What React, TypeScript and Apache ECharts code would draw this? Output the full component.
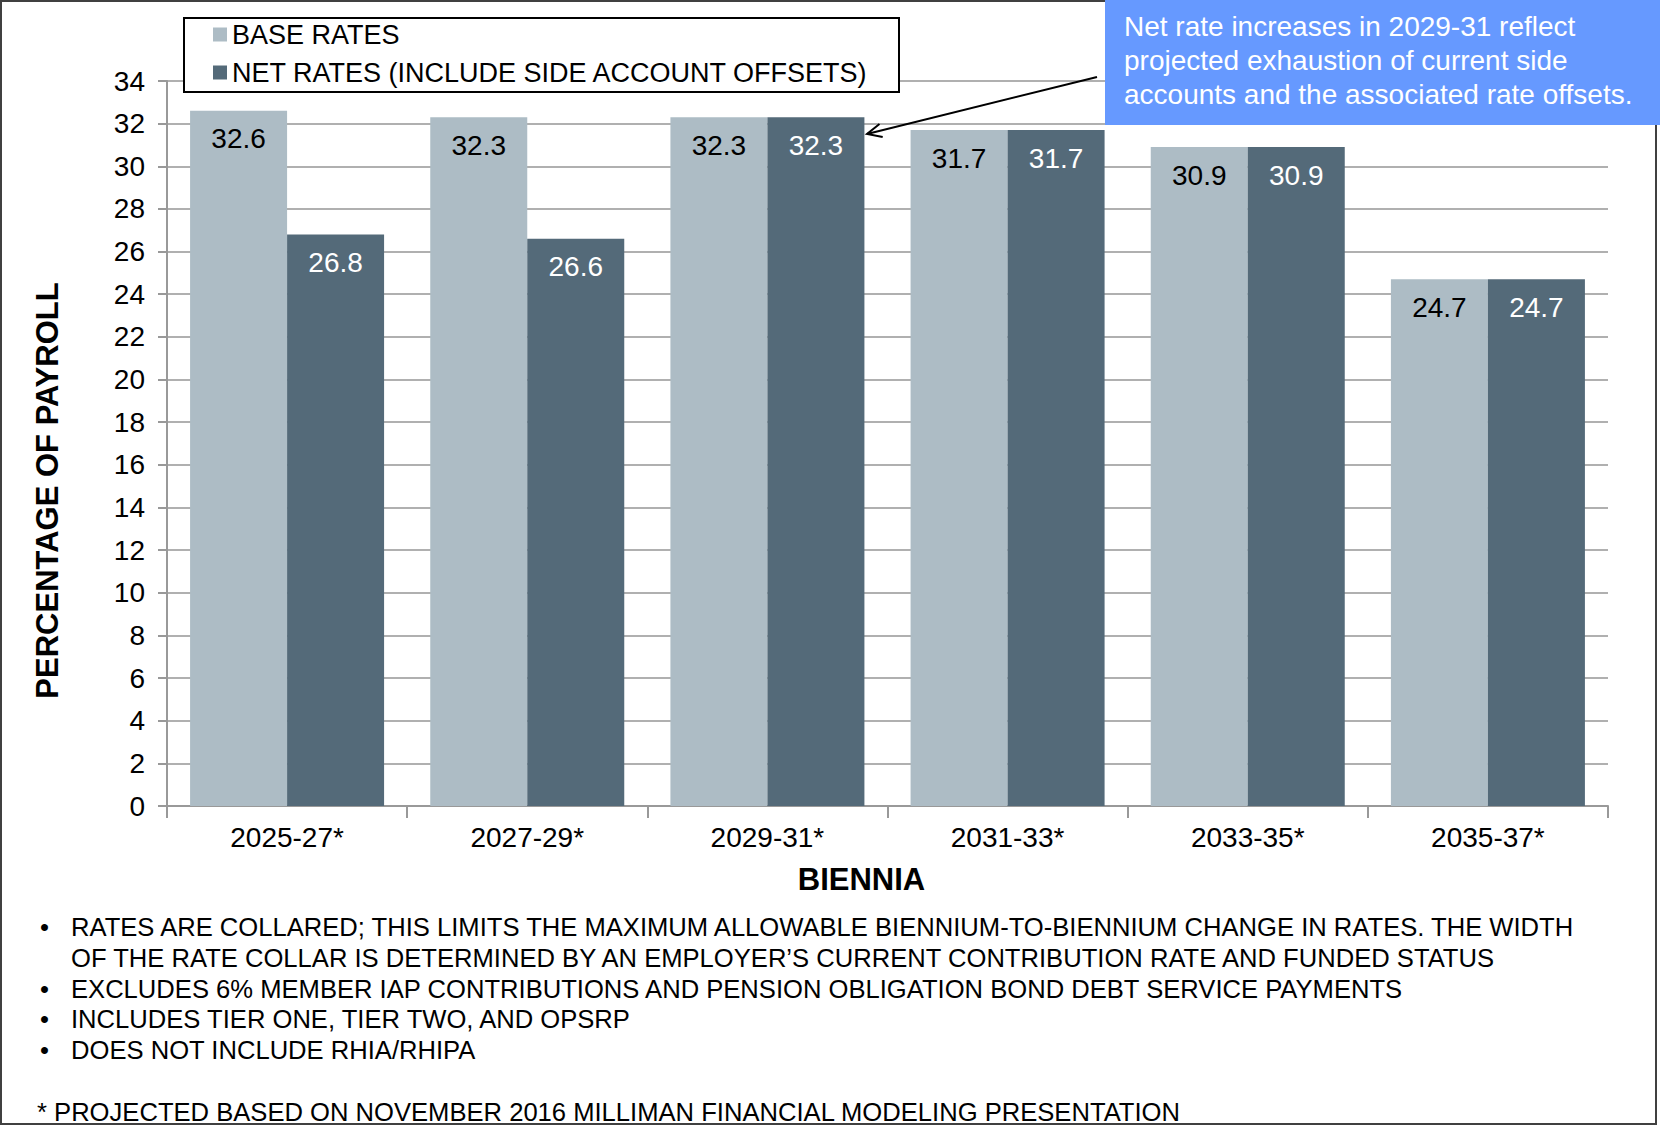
import React, { useEffect, useRef } from "react";
import * as echarts from "echarts";

const categories = ["2025-27*", "2027-29*", "2029-31*", "2031-33*", "2033-35*", "2035-37*"];
const baseRates = [32.6, 32.3, 32.3, 31.7, 30.9, 24.7];
const netRates = [26.8, 26.6, 32.3, 31.7, 30.9, 24.7];
const seriesNames = ["BASE RATES", "NET RATES (INCLUDE SIDE ACCOUNT OFFSETS)"];
const yMin = 0;
const yMax = 34;
const yStep = 2;
const yAxisTitle = "PERCENTAGE OF PAYROLL";
const xAxisTitle = "BIENNIA";
const annotationLines = [
  "Net rate increases in 2029-31 reflect",
  "projected exhaustion of current side",
  "accounts and the associated rate offsets.",
];
const noteBullets = ["•", "", "•", "•", "•"];
const noteLines = [
  "RATES ARE COLLARED; THIS LIMITS THE MAXIMUM ALLOWABLE BIENNIUM-TO-BIENNIUM CHANGE IN RATES. THE WIDTH",
  "OF THE RATE COLLAR IS DETERMINED BY AN EMPLOYER\u2019S CURRENT CONTRIBUTION RATE AND FUNDED STATUS",
  "EXCLUDES 6% MEMBER IAP CONTRIBUTIONS AND PENSION OBLIGATION BOND DEBT SERVICE PAYMENTS",
  "INCLUDES TIER ONE, TIER TWO, AND OPSRP",
  "DOES NOT INCLUDE RHIA/RHIPA",
];
const footnote = "* PROJECTED BASED ON NOVEMBER 2016 MILLIMAN FINANCIAL MODELING PRESENTATION";

const FONT = "'Liberation Sans', Arial, sans-serif";
const LIGHT = "#adbcc5";
const DARK = "#546a79";

export default function App() {
  const ref = useRef<HTMLDivElement>(null);
  useEffect(() => {
    document.body.style.margin = "0";
    const chart = echarts.init(ref.current!, null, { renderer: "svg" });

    const noteElements: any[] = [];
    noteLines.forEach((t, i) => {
      const y = 927 + i * 30.8;
      if (noteBullets[i]) {
        noteElements.push({
          type: "text",
          x: 40,
          y,
          style: { text: noteBullets[i], fontSize: 25.6, fontFamily: FONT, fill: "#000", verticalAlign: "middle", align: "left" },
        });
      }
      noteElements.push({
        type: "text",
        x: 71,
        y,
        style: { text: t, fontSize: 25.6, fontFamily: FONT, fill: "#000", verticalAlign: "middle", align: "left" },
      });
    });

    const option: any = {
      animation: false,
      backgroundColor: "#fff",
      textStyle: { fontFamily: FONT },
      grid: { left: 167, right: 52, top: 81, bottom: 320, containLabel: false },
      legend: {
        orient: "vertical",
        left: 213,
        top: 21,
        padding: 0,
        itemWidth: 14,
        itemHeight: 14,
        itemGap: 11,
        icon: "rect",
        z: 20,
        textStyle: { fontSize: 27, color: "#000", fontFamily: FONT },
        data: seriesNames,
      },
      xAxis: {
        type: "category",
        data: categories,
        name: xAxisTitle,
        nameLocation: "middle",
        nameGap: 58,
        nameTextStyle: { fontSize: 31, fontWeight: "bold", color: "#000", fontFamily: FONT, padding: [0, 52, 0, 0] },
        axisLine: { show: true, lineStyle: { color: "#999", width: 2 } },
        axisTick: { show: true, length: 12, lineStyle: { color: "#999", width: 2 } },
        axisLabel: { fontSize: 28, color: "#000", margin: 17, fontFamily: FONT },
        splitLine: { show: false },
      },
      yAxis: {
        type: "value",
        min: yMin,
        max: yMax,
        interval: yStep,
        name: yAxisTitle,
        nameLocation: "middle",
        nameGap: 104,
        nameTextStyle: { fontSize: 31, fontWeight: "bold", color: "#000", fontFamily: FONT, padding: [0, 94, 0, 0] },
        axisLine: { show: true, lineStyle: { color: "#999", width: 2 } },
        axisTick: { show: true, length: 9, lineStyle: { color: "#999", width: 2 } },
        axisLabel: { fontSize: 28, color: "#000", margin: 22, fontFamily: FONT },
        splitLine: { show: true, lineStyle: { color: "#b0b0b0", width: 2 } },
      },
      series: [
        {
          name: seriesNames[0],
          type: "bar",
          data: baseRates,
          barWidth: 97,
          barGap: "0%",
          itemStyle: { color: LIGHT },
          label: { show: true, position: "insideTop", distance: 14, fontSize: 28, color: "#000", fontFamily: FONT },
        },
        {
          name: seriesNames[1],
          type: "bar",
          data: netRates,
          barWidth: 97,
          barGap: "0%",
          itemStyle: { color: DARK },
          label: { show: true, position: "insideTop", distance: 14, fontSize: 28, color: "#fff", fontFamily: FONT },
        },
      ],
      graphic: {
        elements: [
          {
            type: "rect",
            z: 10,
            shape: { x: 184, y: 18, width: 715, height: 74 },
            style: { fill: "#fff", stroke: "#000", lineWidth: 2 },
          },
          {
            type: "rect",
            z: 50,
            shape: { x: 1, y: 1, width: 1655, height: 1123 },
            style: { fill: "none", stroke: "#404040", lineWidth: 2 },
          },
          {
            type: "line",
            z: 60,
            shape: { x1: 1097, y1: 77, x2: 867, y2: 134 },
            style: { stroke: "#000", lineWidth: 2 },
          },
          {
            type: "polyline",
            z: 60,
            shape: { points: [[882.7, 137.1], [867, 134], [879.5, 124]] },
            style: { stroke: "#000", lineWidth: 2, fill: "none" },
          },
          {
            type: "rect",
            z: 70,
            shape: { x: 1105, y: 0, width: 555, height: 125 },
            style: { fill: "#6699ff" },
          },
          {
            type: "text",
            z: 71,
            x: 1124,
            y: 9,
            style: {
              text: annotationLines.join("\n"),
              fontSize: 28,
              lineHeight: 34,
              fontFamily: FONT,
              fill: "#fff",
              align: "left",
              verticalAlign: "top",
            },
          },
          ...noteElements,
          {
            type: "text",
            x: 37,
            y: 1112,
            style: { text: footnote, fontSize: 25.6, fontFamily: FONT, fill: "#000", verticalAlign: "middle", align: "left" },
          },
        ],
      },
    };
    chart.setOption(option);
    return () => chart.dispose();
  }, []);
  return <div ref={ref} style={{ position: "absolute", left: 0, top: 0, width: 1660, height: 1126 }} />;
}
